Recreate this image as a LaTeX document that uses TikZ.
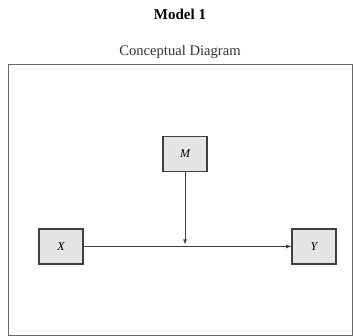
\documentclass[tikz,border=0pt]{standalone}
\usepackage{fontspec}
\setmainfont{Liberation Serif}
\begin{document}
\begin{tikzpicture}
		[x=1pt,y=1pt,var/.style={rectangle,draw=black!75,line width=1.2pt,fill=black!10,minimum width=44pt,minimum height=35pt,font=\fontsize{12}{14}\selectfont\itshape},>=latex]
		\useasboundingbox (0,0) rectangle (354,336);
		\node[name=title,font=\fontsize{15}{18}\selectfont\bfseries]at(180,322){Model 1};
		\node[name=sub,font=\fontsize{14.6}{17}\selectfont,text=black!80]at(180,284){Conceptual Diagram};
		\draw[black!60,line width=0.8pt] (8,272) rectangle (352,1);
		\node[var,name=M]at(185,182){M};
		\node[var,name=X]at(61,89.5){X};
		\node[var,name=Y]at(314,89.5){Y};
		\coordinate (mid) at ([yshift=2pt]M |- X);
		\draw[->,black!75,thick] (X) -- (Y);
		\draw[->,black!75,thick] (M) -- (mid);
	\end{tikzpicture}
\end{document}
